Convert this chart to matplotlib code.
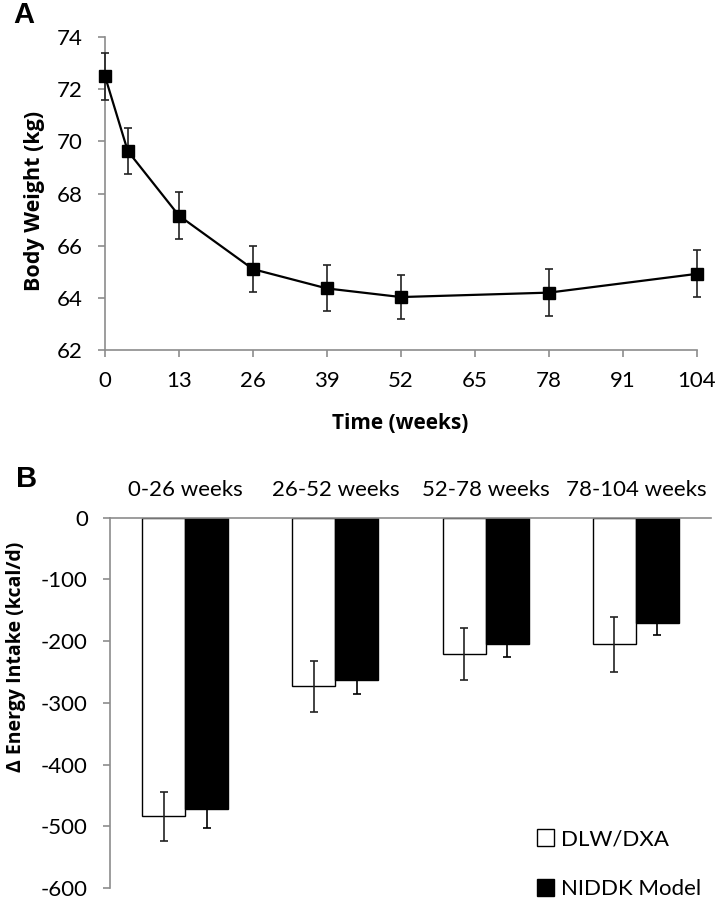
import numpy as np
import matplotlib.pyplot as plt
from matplotlib.patches import Patch

plt.rcParams['font.family'] = ['Lato', 'DejaVu Sans']
plt.rcParams['axes.unicode_minus'] = False

# panel A: body weight over time
weeks = [0, 4, 13, 26, 39, 52, 78, 104]
weight = [72.5, 69.63, 67.15, 65.1, 64.36, 64.03, 64.2, 64.92]
weight_err = [0.9, 0.9, 0.9, 0.87, 0.88, 0.85, 0.9, 0.9]

# panel B: change in energy intake
periods = ["0-26 weeks", "26-52 weeks", "52-78 weeks", "78-104 weeks"]
dlw_dxa = [-484, -273, -221, -205]
dlw_dxa_err = [40, 41, 42, 45]
niddk = [-472, -263, -205, -171]
niddk_err = [30, 22, 20, 19]

gray = "#8c8c8c"
tick_fs = 16
label_font = ["Open Sans", "DejaVu Sans"]

fig = plt.figure(figsize=(7.17, 9.0), dpi=100)

# --- panel A ---
ax1 = fig.add_axes([0.1464, 0.6111, 0.8257, 0.3478])
ax1.errorbar(weeks, weight, yerr=weight_err, color="black", lw=1.6,
             marker="s", markersize=9, ecolor="#222222", elinewidth=1.2,
             capsize=3, capthick=1.2, clip_on=False, zorder=3)
ax1.set_xlim(0, 104)
ax1.set_ylim(62, 74)
ax1.set_xticks(np.arange(0, 105, 13))
ax1.set_yticks(np.arange(62, 75, 2))
for s in ["top", "right"]:
    ax1.spines[s].set_visible(False)
for s in ["left", "bottom"]:
    ax1.spines[s].set_color(gray)
    ax1.spines[s].set_linewidth(1.2)
ax1.tick_params(colors=gray, labelcolor="black", labelsize=tick_fs, length=5,
                width=1.2, direction="out")
ax1.tick_params(axis="y", pad=11)
ax1.tick_params(axis="x", pad=10)
ax1.set_xlabel("Time (weeks)", fontsize=15, fontweight="bold",
               family=label_font)
ax1.xaxis.set_label_coords(0.498, -0.201)
# y label placed by its centre
fig.text(35 / 717, 1 - 201 / 900, "Body Weight (kg)", rotation=90,
         ha="center", va="center", fontsize=15.5, fontweight="bold",
         family=label_font)
fig.text(0.018, 0.983, "A", fontsize=21, fontweight="bold",
         family="Liberation Sans", va="center")

# --- panel B ---
ax2 = fig.add_axes([0.1534, 0.0133, 0.8382, 0.4114])
x = np.arange(len(periods))
w = 0.286
ax2.bar(x - w / 2, dlw_dxa, w, color="white", edgecolor="black", lw=1.0)
ax2.bar(x + w / 2, niddk, w, color="black", edgecolor="black", lw=1.0)
ax2.errorbar(x - w / 2, dlw_dxa, yerr=dlw_dxa_err, fmt="none",
             ecolor="#222222", elinewidth=1.2, capsize=3, capthick=1.2)
ax2.errorbar(x + w / 2, niddk, yerr=niddk_err, fmt="none",
             ecolor="black", elinewidth=1.2, capsize=3, capthick=1.2)
ax2.set_xlim(-0.5, 3.5)
ax2.set_ylim(-600, 0)
ax2.set_yticks(np.arange(-600, 1, 100))
ax2.xaxis.tick_top()
ax2.set_xticks(x)
ax2.set_xticklabels(periods, fontsize=tick_fs)
ax2.tick_params(axis="x", length=0, pad=13)
ax2.tick_params(axis="y", colors=gray, labelcolor="black", labelsize=tick_fs,
                length=5, width=1.2, direction="out", pad=11)
for s in ["bottom", "right"]:
    ax2.spines[s].set_visible(False)
for s in ["left", "top"]:
    ax2.spines[s].set_color(gray)
    ax2.spines[s].set_linewidth(1.2)
fig.text(16 / 717, 1 - 657 / 900, "\u0394 Energy Intake (kcal/d)",
         rotation=90, ha="center", va="center", fontsize=14,
         fontweight="bold", family=label_font)
handles = [Patch(facecolor="white", edgecolor="black", label="DLW/DXA"),
           Patch(facecolor="black", edgecolor="black", label="NIDDK Model")]
ax2.legend(handles=handles, loc="lower left", bbox_to_anchor=(0.724, -0.019),
           bbox_transform=fig.transFigure, frameon=False, fontsize=16,
           handlelength=0.75, handleheight=0.75, handletextpad=0.35,
           labelspacing=1.35, borderpad=0.3)
fig.text(0.022, 0.468, "B", fontsize=21, fontweight="bold",
         family="Liberation Sans", va="center")

fig.savefig("out.png", dpi=100)
